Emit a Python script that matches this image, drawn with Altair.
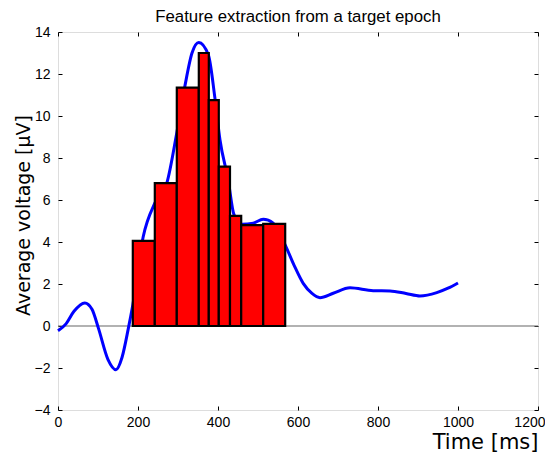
import altair as alt
import pandas as pd

# Curve (average ERP)
t_ms = [0, 20, 40, 67, 85, 101, 125, 145, 160, 176, 187, 213, 242, 272, 297, 317, 335, 352,
        376, 392, 405, 425, 440, 460, 488, 513, 538, 567, 590, 613, 635, 655, 688, 730,
        788, 830, 870, 905, 947, 975, 1000]
volt = [-0.23, 0.1, 0.7, 1.1, 0.8, -0.1, -1.6, -2.08, -1.5, -0.1, 1.0, 4.25, 5.85, 6.8, 9.2,
        11.4, 13.0, 13.5, 12.9, 10.9, 8.86, 7.0, 5.3, 4.85, 4.9, 5.08, 4.9, 3.9, 2.9, 2.03,
        1.55, 1.35, 1.56, 1.82, 1.68, 1.67, 1.55, 1.43, 1.59, 1.8, 2.05]

# Feature windows (bars)
bar_start = [187, 242, 297, 352, 377, 402, 430, 458, 513]
bar_end = [242, 297, 352, 377, 402, 430, 458, 513, 568]
bar_value = [4.05, 6.8, 11.35, 13.0, 10.76, 7.59, 5.24, 4.8, 4.86]

x_ticks = [0, 200, 400, 600, 800, 1000, 1200]
y_ticks = [-4, -2, 0, 2, 4, 6, 8, 10, 12, 14]

curve = pd.DataFrame({"t": t_ms, "v": volt})
bars = pd.DataFrame({"t0": bar_start, "t1": bar_end, "v": bar_value, "zero": [0] * len(bar_value)})
zero_df = pd.DataFrame({"t0": [0], "t1": [1200], "v": [0]})

FONT = "Liberation Sans"
TFONT = "DejaVu Sans"
xs = alt.Scale(domain=[0, 1200], nice=False, zero=False)
ys = alt.Scale(domain=[-4, 14], nice=False, zero=False)

x_bottom = alt.Axis(orient="bottom", values=x_ticks, grid=False, domain=False, offset=-4,
                    tickSize=4, tickColor="black", labelPadding=5, labelFontSize=14,
                    labelFont=FONT, labelColor="black", title="Time [ms]", titleFontSize=21,
                    titleFont=TFONT, titleFontWeight="normal", titleAlign="right",
                    titleBaseline="alphabetic", titleX=480, titleY=42,
                    labelAlign=alt.condition("datum.value == 1200", alt.value("right"), alt.value("center")),
                    labelOffset=alt.condition("datum.value == 1200", alt.value(7), alt.value(0)),
                    titleColor="black", labelFlush=False, format="d")
y_left = alt.Axis(orient="left", values=y_ticks, grid=False, domain=False, offset=-4,
                  tickSize=4, tickColor="black", labelPadding=8, labelFontSize=14,
                  labelFont=FONT, labelColor="black", title="Average voltage [µV]",
                  titleFontSize=19, titleFont=TFONT, titleFontWeight="normal",
                  titleAlign="center", titleBaseline="alphabetic", titleAngle=270,
                  titleX=-33, titleY=183,
                  titleColor="black", labelFlush=False, format="d")
x_top = alt.Axis(orient="top", values=x_ticks, grid=False, domain=False, offset=-4,
                 tickSize=4, tickColor="black", labels=False, title=None)
y_right = alt.Axis(orient="right", values=y_ticks, grid=False, domain=False, offset=-4,
                   tickSize=4, tickColor="black", labels=False, title=None)

zero_line = alt.Chart(zero_df).mark_rule(color="#666666", strokeWidth=1.2).encode(
    x=alt.X("t0:Q", scale=xs, axis=x_bottom),
    x2="t1:Q",
    y=alt.Y("v:Q", scale=ys, axis=y_left),
)

line = alt.Chart(curve).mark_line(color="#0000ff", strokeWidth=3, interpolate="monotone").encode(
    x=alt.X("t:Q", scale=xs, axis=x_top),
    y=alt.Y("v:Q", scale=ys, axis=y_right),
)

rects = alt.Chart(bars).mark_rect(color="#ff0000", stroke="black", strokeWidth=2.2).encode(
    x=alt.X("t0:Q", scale=xs, axis=None),
    x2="t1:Q",
    y=alt.Y("zero:Q", scale=ys, axis=None),
    y2="v:Q",
)

chart = alt.layer(zero_line, line, rects).properties(
    width=480,
    height=378,
    title=alt.TitleParams("Feature extraction from a target epoch", fontSize=16.8, font=FONT,
                          fontWeight="normal", color="black", anchor="middle", offset=0,
                          dy=1),
    padding={"left": 50, "top": 24, "right": 7, "bottom": 42},
    autosize=alt.AutoSizeParams(type="none"),
).configure_view(stroke="black", strokeWidth=1.3).configure(background="white")

chart.save("out.html", embed_options={"renderer": "svg", "actions": False})
